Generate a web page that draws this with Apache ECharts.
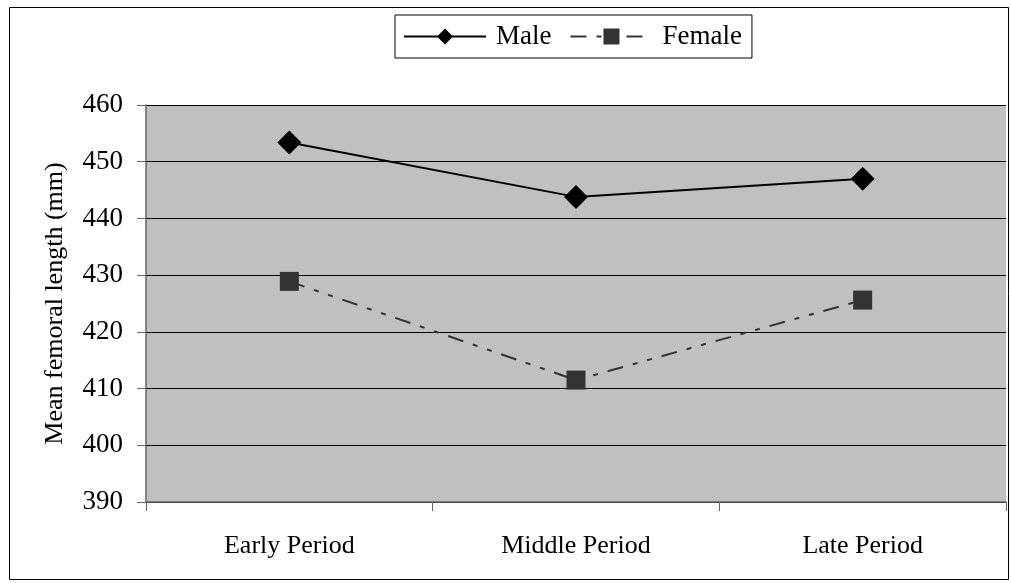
<!DOCTYPE html>
<html><head><meta charset="utf-8">
<script src="https://cdn.jsdelivr.net/npm/echarts@6/dist/echarts.min.js"></script>
<style>html,body{margin:0;padding:0;background:#fff}#c{width:1011px;height:583px}</style>
</head><body><div id="c"></div>
<script>
const categories = ['Early Period', 'Middle Period', 'Late Period'];
const maleValues = [453.4, 443.8, 447.0];
const femaleValues = [428.9, 411.5, 425.6];
const yTicks = {min: 390, max: 460, interval: 10};

const font = 'Liberation Serif, Times New Roman, serif';
const chart = echarts.init(document.getElementById('c'));
chart.setOption({
  animation: false,
  backgroundColor: '#fff',
  textStyle: {fontFamily: font, color: '#000'},
  graphic: [{type: 'rect', shape: {x: 9.5, y: 7.5, width: 999, height: 572}, style: {fill: 'none', stroke: '#000', lineWidth: 1}, silent: true}],
  legend: {
    top: 15, left: 395,
    itemWidth: 82, itemHeight: 20, itemGap: 18,
    padding: [8, 10, 8, 8],
    borderColor: '#000', borderWidth: 1,
    textStyle: {fontFamily: font, fontSize: 27, color: '#000', padding: [0, 0, 0, 5]},
    data: ['Male', 'Female']
  },
  grid: {left: 146, right: 5, top: 105, bottom: 81},
  xAxis: {
    type: 'category', data: categories, boundaryGap: true,
    axisLine: {lineStyle: {color: '#666', width: 1.5}},
    axisTick: {show: true, length: 9, lineStyle: {color: '#666'}},
    axisLabel: {fontFamily: font, fontSize: 26, color: '#000', margin: 31}
  },
  yAxis: {
    type: 'value', min: yTicks.min, max: yTicks.max, interval: yTicks.interval,
    name: 'Mean femoral length (mm)', nameLocation: 'middle', nameGap: 78,
    nameTextStyle: {fontFamily: font, fontSize: 26, color: '#000'},
    axisLine: {show: true, lineStyle: {color: '#666', width: 1.5}},
    axisTick: {show: true, length: 9, lineStyle: {color: '#666'}},
    axisLabel: {fontFamily: font, fontSize: 27, color: '#000', margin: 23},
    splitLine: {show: true, lineStyle: {color: '#000', width: 1}},
    splitArea: {show: true, areaStyle: {color: ['#c0c0c0']}}
  },
  series: [
    {name: 'Male', type: 'line', data: maleValues, symbol: 'diamond', symbolSize: 24,
     itemStyle: {color: '#000'}, lineStyle: {color: '#000', width: 2, type: 'solid'}},
    {name: 'Female', type: 'line', data: femaleValues, symbol: 'rect', symbolSize: 19,
     itemStyle: {color: '#333'}, lineStyle: {color: '#333', width: 2, type: [16, 10, 5, 10, 5, 10]}}
  ]
});
</script></body></html>
